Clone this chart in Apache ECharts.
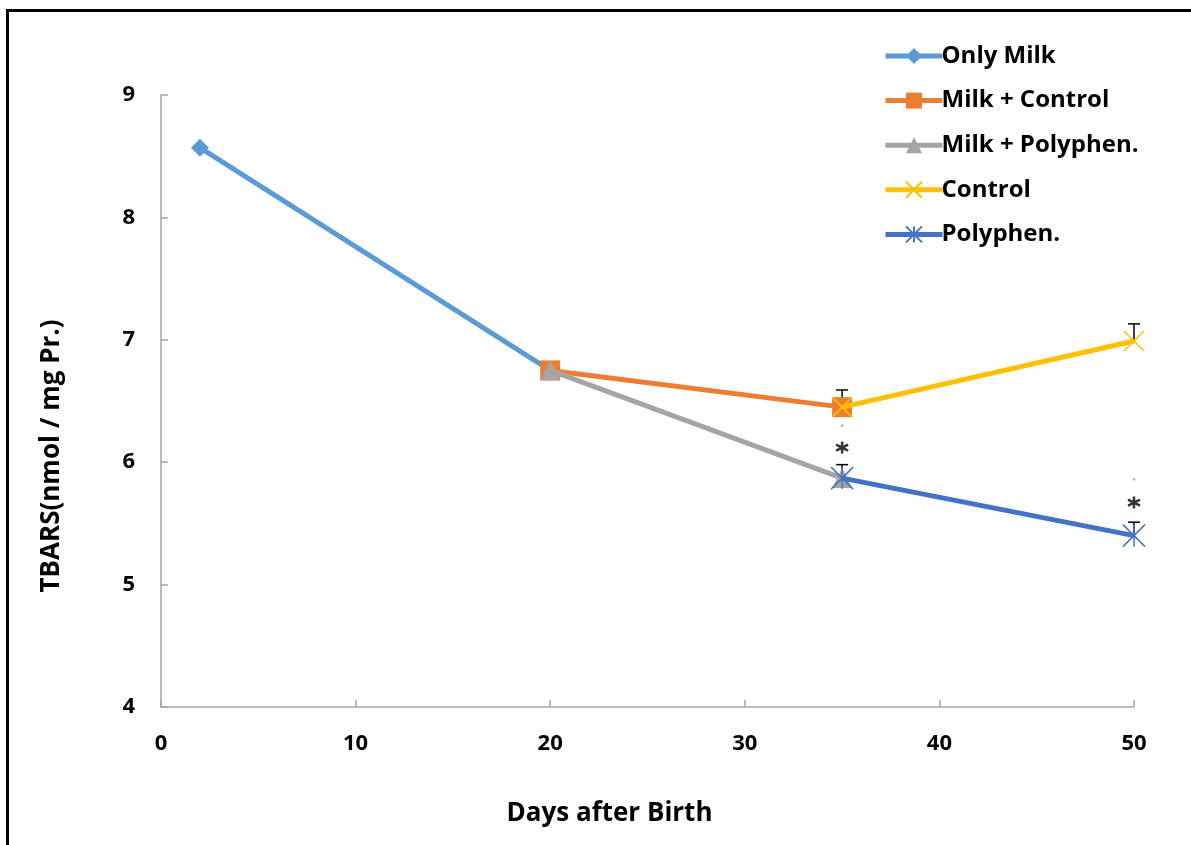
<!DOCTYPE html>
<html lang="en">
<head>
    <meta charset="UTF-8">
    <title>TBARS</title>
    <script src="https://cdn.jsdelivr.net/npm/echarts@6/dist/echarts.min.js"></script>
    <style>
        body { margin: 0; background: #fff; }
        #main { width: 1191px; height: 845px; }
    </style>
</head>
<body>
    <div id="main"></div>
    <script>
        // data
        var seriesNames = ['Only Milk', 'Milk + Control', 'Milk + Polyphen.', 'Control', 'Polyphen.'];
        var onlyMilk = [[2, 8.57], [20, 6.75]];
        var milkControl = [[20, 6.75], [35, 6.45]];
        var milkPoly = [[20, 6.75], [35, 5.87]];
        var control = [[35, 6.45], [50, 6.99]];
        var poly = [[35, 5.87], [50, 5.40]];
        // error bars: [x, mean, upper]
        var errBars = [[35, 6.45, 6.59], [35, 5.87, 5.98], [50, 6.99, 7.13], [50, 5.40, 5.51]];
        var stars = [[35, 6.12], [50, 5.67]];
        var dots = [[35, 6.30], [50, 5.86]];

        var colors = ['#5b9bd5', '#ed7d31', '#a5a5a5', '#ffc000', '#4472c4'];
        var xSym = 'path://M0,0L10,10M10,0L0,10';
        var starSym = 'path://M0,0L10,10M10,0L0,10M5,0L5,10';
        var sixStar = 'path://M5,0L5,10M0.67,2.5L9.33,7.5M0.67,7.5L9.33,2.5';
        var font = 'Open Sans';

        var myChart = echarts.init(document.getElementById('main'));

        function lineSeries(i, data, symbol, size, stroke) {
            return {
                name: seriesNames[i],
                type: 'line',
                data: data,
                symbol: symbol,
                symbolSize: size,
                lineStyle: { color: colors[i], width: 5 },
                itemStyle: stroke
                    ? { color: 'rgba(0,0,0,0)', borderColor: colors[i], borderWidth: 1.5 }
                    : { color: colors[i] },
                z: 2 + i
            };
        }

        var option = {
            animation: false,
            grid: { left: 161, right: 57, top: 95, bottom: 138 },
            xAxis: {
                type: 'value',
                min: 0, max: 50, interval: 10,
                splitLine: { show: false },
                axisLine: { lineStyle: { color: '#a6a6a6', width: 1.5 } },
                axisTick: { inside: true, length: 7, lineStyle: { color: '#a6a6a6', width: 1.5 } },
                axisLabel: { color: '#000', fontFamily: font, fontWeight: 'bold', fontSize: 22, margin: 26 },
                name: 'Days after Birth',
                nameLocation: 'middle',
                nameGap: 94,
                nameTextStyle: { color: '#000', fontFamily: font, fontWeight: 'bold', fontSize: 26, padding: [0, 76, 0, 0] }
            },
            yAxis: {
                type: 'value',
                min: 4, max: 9, interval: 1,
                splitLine: { show: false },
                axisLine: { show: true, lineStyle: { color: '#a6a6a6', width: 1.5 } },
                axisTick: { show: true, inside: true, length: 7, lineStyle: { color: '#a6a6a6', width: 1.5 } },
                axisLabel: { color: '#000', fontFamily: font, fontWeight: 'bold', fontSize: 22, margin: 26 },
                name: 'TBARS(nmol / mg Pr.)',
                nameLocation: 'middle',
                nameGap: 96,
                nameTextStyle: { color: '#000', fontFamily: font, fontWeight: 'bold', fontSize: 26, padding: [0, 110, 0, 0] }
            },
            legend: {
                orient: 'vertical',
                left: 878,
                top: 39,
                itemWidth: 57,
                itemHeight: 20,
                itemGap: 20.6,
                data: seriesNames,
                lineStyle: { width: 5 },
                textStyle: { color: '#000', fontFamily: font, fontWeight: 'bold', fontSize: 24, lineHeight: 24, padding: [0, 0, 0, -6] }
            },
            graphic: [{
                type: 'rect',
                shape: { x: 7.5, y: 10.5, width: 1400, height: 1000 },
                style: { fill: 'none', stroke: '#000', lineWidth: 3 },
                silent: true
            }],
            series: [
                lineSeries(0, onlyMilk, 'diamond', 18, false),
                lineSeries(1, milkControl, 'rect', 20, false),
                lineSeries(2, milkPoly, 'triangle', 20, false),
                lineSeries(3, control, xSym, 20, true),
                lineSeries(4, poly, starSym, 22, true),
                {
                    type: 'custom',
                    data: errBars,
                    z: 1,
                    renderItem: function (params, api) {
                        var p0 = api.coord([api.value(0), api.value(1)]);
                        var p1 = api.coord([api.value(0), api.value(2)]);
                        var style = { stroke: '#000', lineWidth: 1.5 };
                        return {
                            type: 'group',
                            children: [
                                { type: 'line', shape: { x1: p0[0], y1: p0[1], x2: p1[0], y2: p1[1] }, style: style },
                                { type: 'line', shape: { x1: p1[0] - 6, y1: p1[1], x2: p1[0] + 6, y2: p1[1] }, style: style }
                            ]
                        };
                    }
                },
                {
                    type: 'scatter',
                    data: stars,
                    symbol: sixStar,
                    symbolSize: 12,
                    itemStyle: { color: 'rgba(0,0,0,0)', borderColor: '#000', borderWidth: 2.5 },
                    z: 10
                },
                {
                    type: 'scatter',
                    data: dots,
                    symbol: 'circle',
                    symbolSize: 3,
                    itemStyle: { color: '#b0b0b0' },
                    z: 10
                }
            ]
        };
        myChart.setOption(option);
    </script>
</body>
</html>
